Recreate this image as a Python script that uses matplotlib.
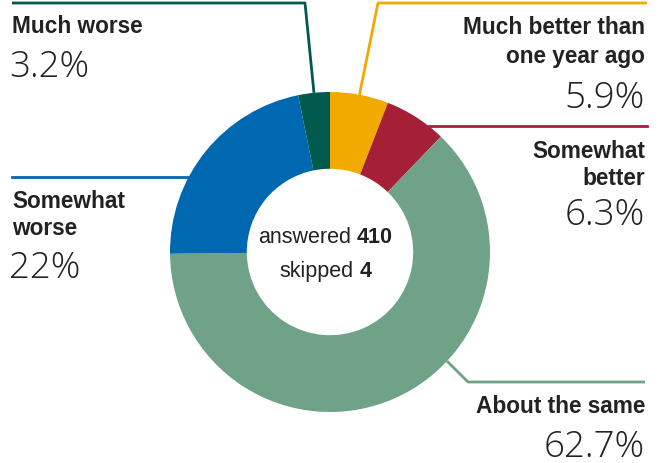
import matplotlib.pyplot as plt
import numpy as np

# survey answers, clockwise from the top
labels = ["Much better than\none year ago", "Somewhat\nbetter", "About the same",
          "Somewhat\nworse", "Much worse"]
values = [5.9, 6.3, 62.7, 22, 3.2]
value_text = ["5.9%", "6.3%", "62.7%", "22%", "3.2%"]
colors = ["#F2A900", "#A51F36", "#70A288", "#0067B1", "#005A4E"]
answered = 410
skipped = 4

W, H = 662, 463
fig = plt.figure(figsize=(W / 100, H / 100), dpi=100)
ax = fig.add_axes([0, 0, 1, 1])

cx, cy, R = 330, H - 252, 160
wedges, _ = ax.pie(values, colors=colors, startangle=90, counterclock=False,
                   center=(cx, cy), radius=R, wedgeprops=dict(width=R * 0.48, linewidth=0),
                   frame=True)
ax.set_xlim(0, W)
ax.set_ylim(0, H)
ax.axis("off")

bold = dict(family="Liberation Sans", weight="bold", fontsize=16.3, color="#222222")
light = dict(family="Open Sans", weight="light", fontsize=26.5, color="#222222")


def y(py):
    return H - py


def edge(deg):
    a = np.deg2rad(deg)
    return cx + R * np.cos(a), cy + R * np.sin(a)


# mid angle of each wedge
mids = []
start = 90
for v in values:
    mids.append(start - v / sum(values) * 180)
    start -= v / sum(values) * 360

# leader lines
x0, y0 = edge(mids[4])
ax.plot([x0, 305, 12], [y0, y(3), y(3)], color=colors[4], lw=2, solid_capstyle="butt")
x0, y0 = edge(mids[0])
ax.plot([x0, 378, 647], [y0, y(3), y(3)], color=colors[0], lw=2, solid_capstyle="butt")
hy = y(126)
ax.plot([cx + np.sqrt(R**2 - (hy - cy)**2), 647], [hy, hy], color=colors[1], lw=2)
hy = y(177)
ax.plot([12, cx - np.sqrt(R**2 - (hy - cy)**2)], [hy, hy], color=colors[3], lw=2)
x0, y0 = edge(-43)
ax.plot([x0, 468, 645], [y0, y(382), y(382)], color=colors[2], lw=2, solid_capstyle="butt")

# right-hand labels
ax.text(645, y(34), "Much better than", ha="right", va="baseline", **bold)
ax.text(645, y(63), "one year ago", ha="right", va="baseline", **bold)
ax.text(645, y(108), value_text[0], ha="right", va="baseline", **light)
ax.text(645, y(158), "Somewhat", ha="right", va="baseline", **bold)
ax.text(645, y(185), "better", ha="right", va="baseline", **bold)
ax.text(645, y(225), value_text[1], ha="right", va="baseline", **light)
ax.text(645, y(413), labels[2], ha="right", va="baseline", **bold)
ax.text(645, y(457), value_text[2], ha="right", va="baseline", **light)

# left-hand labels
ax.text(12, y(33), labels[4], ha="left", va="baseline", **bold)
ax.text(9, y(77), value_text[4], ha="left", va="baseline", **light)
ax.text(12, y(208), "Somewhat", ha="left", va="baseline", **bold)
ax.text(12, y(235), "worse", ha="left", va="baseline", **bold)
ax.text(9, y(278), value_text[3], ha="left", va="baseline", **light)

# centre counts
reg = dict(family="Liberation Sans", fontsize=15.5, color="#222222", va="baseline")
ax.text(351, y(243), "answered", ha="right", **reg)
ax.text(357, y(243), str(answered), ha="left", **dict(reg, weight="bold"))
ax.text(354, y(277), "skipped", ha="right", **reg)
ax.text(360, y(277), str(skipped), ha="left", **dict(reg, weight="bold"))

fig.savefig("out.png", dpi=100)
